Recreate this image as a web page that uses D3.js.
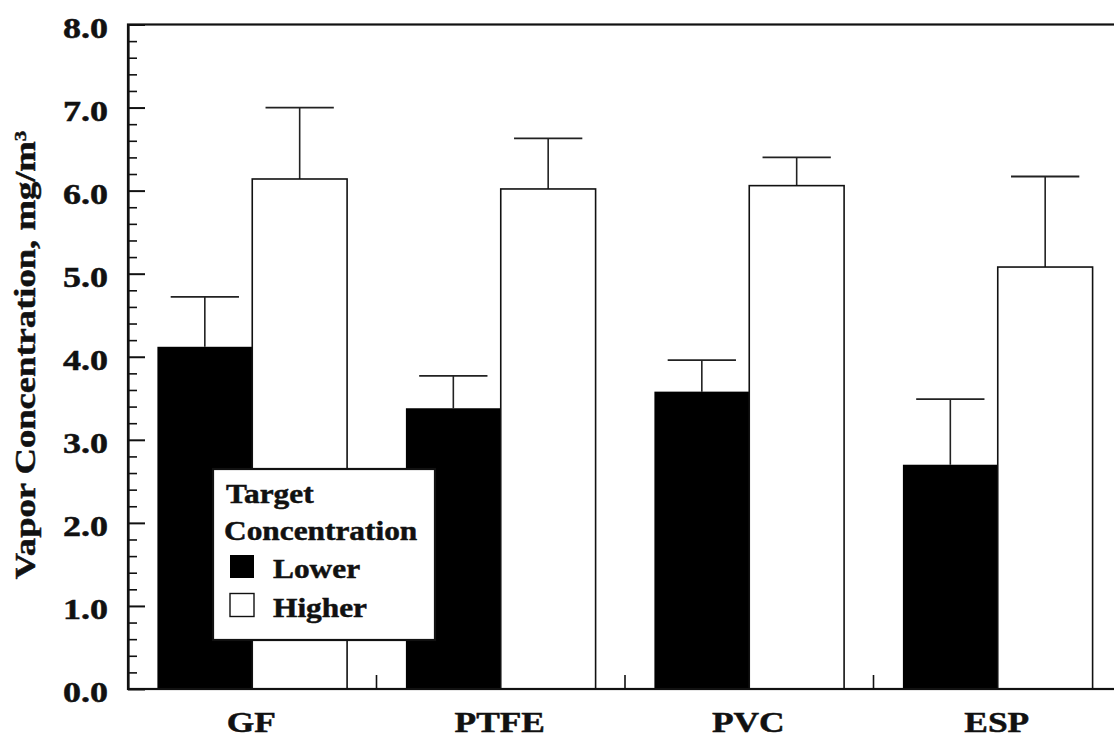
<!DOCTYPE html>
<html>
<head>
<meta charset="utf-8">
<script src="https://cdn.jsdelivr.net/npm/d3@7"></script>
<style>
  html, body { margin: 0; padding: 0; background: #fff; }
  svg { display: block; }
  text { font-family: "Liberation Serif", "Times New Roman", Times, serif; font-weight: bold; fill: #111; stroke: #111; stroke-width: 0.5px; }
</style>
</head>
<body>
<svg id="chart" width="1114" height="745"></svg>
<script>
// Filter materials and the two target concentration levels
const categories = ["GF", "PTFE", "PVC", "ESP"];
const seriesNames = ["Lower", "Higher"];

// Mean vapor concentration (mg/m³) and standard deviation for each filter
const lowerMeans = [4.12, 3.38, 3.58, 2.70];
const lowerErr   = [0.60, 0.39, 0.38, 0.79];
const higherMeans = [6.14, 6.02, 6.06, 5.08];
const higherErr   = [0.86, 0.61, 0.34, 1.09];

// Axis ticks
const yMajorTicks = [0, 1, 2, 3, 4, 5, 6, 7, 8];
const yMinorTicks = d3.range(0, 8.01, 0.2).filter(v => Math.abs(v - Math.round(v)) > 1e-6);

const legendTitle = ["Target", "Concentration"];
const yTitle = "Vapor Concentration, mg/m";

const svg = d3.select("#chart");
const margin = { left: 128, top: 24.5, bottom: 689, right: 1122 };

const y = d3.scaleLinear().domain([0, 8]).range([margin.bottom, margin.top]);
const x0 = d3.scaleBand().domain(categories).range([margin.left, margin.right]).paddingInner(0).paddingOuter(0);
const x1 = d3.scaleBand().domain(seriesNames).range([0, x0.bandwidth()]).paddingInner(0).paddingOuter(0.31);

const rows = categories.map((c, i) => ({
  cat: c,
  values: [
    { s: "Lower", v: lowerMeans[i], e: lowerErr[i] },
    { s: "Higher", v: higherMeans[i], e: higherErr[i] }
  ]
}));

const stretch = 1.2;

// Error bars (upper whisker only), drawn beneath the bars
const errG = svg.append("g").attr("class", "errors");
rows.forEach(r => {
  r.values.forEach(d => {
    const cx = x0(r.cat) + x1(d.s) + x1.bandwidth() / 2;
    const capHalf = x1.bandwidth() * 0.36;
    errG.append("line")
      .attr("x1", cx).attr("x2", cx)
      .attr("y1", y(d.v)).attr("y2", y(d.v + d.e))
      .attr("stroke", "#222").attr("stroke-width", 1.6);
    errG.append("line")
      .attr("x1", cx - capHalf).attr("x2", cx + capHalf)
      .attr("y1", y(d.v + d.e)).attr("y2", y(d.v + d.e))
      .attr("stroke", "#222").attr("stroke-width", 1.8);
  });
});

// Bars
const barG = svg.append("g").attr("class", "bars");
rows.forEach(r => {
  r.values.forEach(d => {
    barG.append("rect")
      .attr("x", x0(r.cat) + x1(d.s))
      .attr("y", y(d.v))
      .attr("width", x1.bandwidth())
      .attr("height", y(0) - y(d.v))
      .attr("fill", d.s === "Lower" ? "#000" : "#fff")
      .attr("stroke", "#111")
      .attr("stroke-width", d.s === "Lower" ? 0 : 1.6);
  });
});

// Plot frame
svg.append("rect")
  .attr("x", margin.left).attr("y", margin.top)
  .attr("width", margin.right - margin.left)
  .attr("height", margin.bottom - margin.top)
  .attr("fill", "none").attr("stroke", "#111").attr("stroke-width", 2.2);

// Left axis: major ticks with labels, inward
const yAxis = svg.append("g")
  .attr("transform", `translate(${margin.left},0)`)
  .call(d3.axisLeft(y).tickValues(yMajorTicks).tickFormat(d3.format(".1f"))
    .tickSizeInner(-17).tickSizeOuter(0).tickPadding(20));
yAxis.select(".domain").attr("stroke", "#111").attr("stroke-width", 2.2);
yAxis.selectAll(".tick line").attr("stroke", "#111").attr("stroke-width", 2);
yAxis.selectAll(".tick text")
  .attr("x", 0).attr("dy", "0.42em")
  .attr("transform", `translate(-20,0) scale(${stretch},1)`)
  .attr("fill", "#111")
  .style("font-size", "30px").style("font-family", "'Liberation Serif', serif").style("font-weight", "bold");

// Left axis: minor ticks
const yMinor = svg.append("g")
  .attr("transform", `translate(${margin.left},0)`)
  .call(d3.axisLeft(y).tickValues(yMinorTicks).tickFormat("").tickSizeInner(-9).tickSizeOuter(0));
yMinor.select(".domain").remove();
yMinor.selectAll(".tick line").attr("stroke", "#111").attr("stroke-width", 1.6);

// Bottom axis: group separators and category labels
const xAxisG = svg.append("g").attr("transform", `translate(0,${margin.bottom})`);
categories.forEach(c => {
  const edge = x0(c) + x0.bandwidth();
  xAxisG.append("line")
    .attr("x1", edge).attr("x2", edge).attr("y1", 0).attr("y2", -14)
    .attr("stroke", "#111").attr("stroke-width", 1.6);
  xAxisG.append("text")
    .attr("text-anchor", "middle")
    .attr("transform", `translate(${x0(c) + x0.bandwidth() / 2 - 1},42.7) scale(1.18,1)`)
    .style("font-size", "30px")
    .text(c);
});

// Y axis title
const yt = svg.append("text")
  .attr("text-anchor", "middle")
  .attr("transform", `translate(35,355) rotate(-90) scale(1.22,1)`)
  .style("font-size", "30px");
yt.append("tspan").text(yTitle);
yt.append("tspan").attr("dy", "-0.55em").style("font-size", "17px").text("3");

// Legend
const lg = svg.append("g").attr("class", "legend");
lg.append("rect")
  .attr("x", 213).attr("y", 469).attr("width", 222).attr("height", 171)
  .attr("fill", "#fff").attr("stroke", "#111").attr("stroke-width", 2.2);
legendTitle.forEach((t, i) => {
  lg.append("text")
    .attr("transform", `translate(${i === 0 ? 226 : 224},${503 + i * 37}) scale(1.12,1)`)
    .style("font-size", "28px")
    .text(t);
});
seriesNames.forEach((s, i) => {
  const top = 555 + i * 38.5;
  lg.append("rect")
    .attr("x", 230).attr("y", top).attr("width", 24).attr("height", 23)
    .attr("fill", s === "Lower" ? "#000" : "#fff")
    .attr("stroke", "#111").attr("stroke-width", s === "Lower" ? 0 : 1.4);
  lg.append("text")
    .attr("transform", `translate(273,${top + 23}) scale(1.12,1)`)
    .style("font-size", "28px")
    .text(s);
});
</script>
</body>
</html>
